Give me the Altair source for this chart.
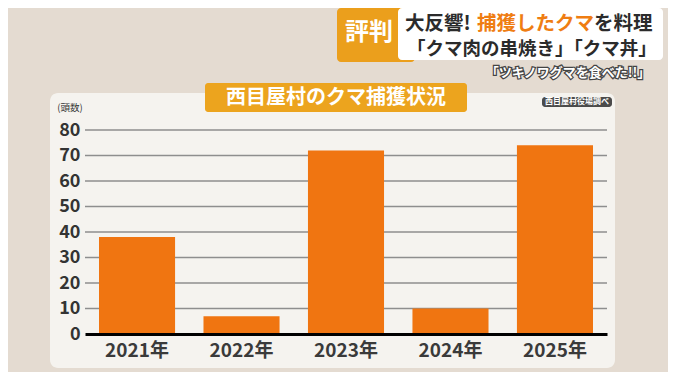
import altair as alt
import pandas as pd

# ---- data ----
years = ["2021年", "2022年", "2023年", "2024年", "2025年"]
captures = [38, 7, 72, 10, 74]
y_ticks = [0, 10, 20, 30, 40, 50, 60, 70, 80]
grid_values = [10, 20, 30, 40, 50, 60, 70, 80]

title_text = "西目屋村のクマ捕獲状況"
unit_text = "(頭数)"
source_text = "西目屋村役場調べ"
badge_text = "評判"
head1_a = "大反響!"
head1_b = "捕獲したクマ"
head1_c = "を料理"
head2 = "「クマ肉の串焼き」「クマ丼」"
sub_text = "「ツキノワグマを食べた!!」"

FONT = "Noto Sans CJK JP"
ORANGE_BAR = "#f07511"
ORANGE_BOX = "#eca41e"
DARK = "#333333"

df = pd.DataFrame({"year": years, "count": captures})
grid_df = pd.DataFrame({"v": grid_values})
one = pd.DataFrame({"k": [0]})

W, H = 522, 204


def box(x, x2, y, y2, color, r=0):
    return alt.Chart(one).mark_rect(color=color, cornerRadius=r).encode(
        x=alt.value(x), x2=alt.value(x2), y=alt.value(y), y2=alt.value(y2)
    )


def label(text, x, y, size, color, align="center", weight="bold", **kw):
    return alt.Chart(one).mark_text(
        text=text, font=FONT, fontSize=size, fontWeight=weight, color=color,
        align=align, baseline="middle", **kw
    ).encode(x=alt.value(x), y=alt.value(y))


panel = box(-35, 530, -37, 238, "#f5f3ef", 8)
badge = box(252, 330, -122, -68, "#eb9f1c", 4)
white_box = box(313, 578, -122, -70, "#ffffff", 4)
title_bar = box(120, 382, -47, -18, ORANGE_BOX, 3)
source_pill = box(457, 527, -33, -23, "#4b4b4b", 3)

texts = [
    label(badge_text, 284, -97, 24, "white"),
    label(head1_a, 320, -106, 19.5, "#2b2b2b", align="left"),
    label(head1_b, 392, -106, 19.5, "#ef7d12", align="left"),
    label(head1_c, 509, -106, 19.5, "#2b2b2b", align="left"),
    label(head2, 322, -81, 18.5, "#2b2b2b", align="left"),
    label(sub_text, 483, -57, 13, "#444444", stroke="#444444", strokeWidth=2.5),
    label(sub_text, 483, -57, 13, "white"),
    label(title_text, 251, -32, 20, "white"),
    label(source_text, 492, -28, 8, "white"),
    label(unit_text, -15, -22, 9.5, DARK, weight="normal"),
]

x_enc = alt.X(
    "year:N", sort=years, title=None,
    scale=alt.Scale(paddingInner=0.272, paddingOuter=0.134),
    axis=alt.Axis(labelAngle=0, labelFont=FONT, labelFontSize=19, labelFontWeight="bold",
                  labelColor="#3a3a3a", labelPadding=7, ticks=False,
                  domainColor="black", domainWidth=3, zindex=1),
)
y_scale = alt.Scale(domain=[0, 80], nice=False)
y_axis = alt.Axis(values=y_ticks, grid=False, ticks=False, domain=False,
                  labelOverlap=False, labelFont=FONT, labelFontSize=18,
                  labelFontWeight="bold", labelColor=DARK, labelPadding=5,
                  zindex=1)

grid = alt.Chart(grid_df).mark_rule(color="#8e8e8e", strokeWidth=1.5).encode(
    y=alt.Y("v:Q", scale=y_scale, title=None, axis=y_axis),
    x=alt.value(0), x2=alt.value(W),
)

bars = alt.Chart(df).mark_bar(color=ORANGE_BAR).encode(
    x=x_enc,
    y=alt.Y("count:Q", scale=y_scale, title=None, axis=y_axis),
)

chart = alt.layer(
    panel, badge, white_box, title_bar, source_pill, *texts, grid, bars
).properties(
    width=W, height=H,
    autosize=alt.AutoSizeParams(type="none"),
    padding={"left": 77, "top": 122, "right": 61, "bottom": 38},
    background="#e4dbd1",
).configure_view(stroke=None)

chart.save("out.html", embed_options={"renderer": "svg", "actions": False})
